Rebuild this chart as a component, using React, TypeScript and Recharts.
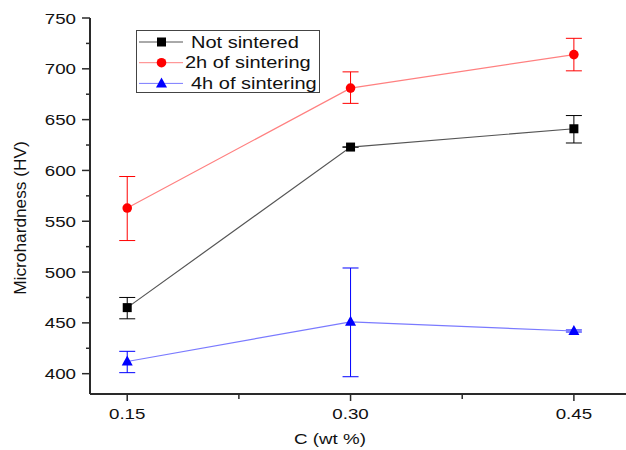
import { LineChart, Line, XAxis, YAxis, ErrorBar } from 'recharts'

const xValues = [0.15, 0.3, 0.45]
const xTicks = [0.15, 0.225, 0.3, 0.375, 0.45]
const xMajor = [0.15, 0.3, 0.45]
const yTicks = [400, 425, 450, 475, 500, 525, 550, 575, 600, 625, 650, 675, 700, 725, 750]

const notSintered = [465, 623, 641]
const notSinteredErr = [[11, 10], [0, 0], [14, 13]]
const sinter2h = [563, 681, 714]
const sinter2hErr = [[32, 31], [15, 16], [16, 16]]
const sinter4h = [412, 451, 442]
const sinter4hErr = [[11, 10], [54, 53], [1, 1]]

const data = xValues.map((x, i) => ({
  x,
  ns: notSintered[i],
  nsErr: notSinteredErr[i],
  h2: sinter2h[i],
  h2Err: sinter2hErr[i],
  h4: sinter4h[i],
  h4Err: sinter4hErr[i]
}))

const FONT = '"Liberation Sans", Arial, sans-serif'
const AXIS = '#2a2a2a'
const SX = 1.25 // the reference's text is stretched sideways

const Marker = ({ kind, cx, cy, color }: { kind: string; cx: number; cy: number; color: string }) => {
  if (kind === 'square') return <rect x={cx - 4.5} y={cy - 4.5} width={9} height={9} fill={color} />
  if (kind === 'circle') return <circle cx={cx} cy={cy} r={4.8} fill={color} />
  return <polygon points={`${cx},${cy - 6} ${cx - 5.5},${cy + 4} ${cx + 5.5},${cy + 4}`} fill={color} />
}

const series = [
  { key: 'ns', err: 'nsErr', name: 'Not sintered', kind: 'square', color: '#000000', line: '#555555', textX: 55 },
  { key: 'h2', err: 'h2Err', name: '2h of sintering', kind: 'circle', color: '#ff0000', line: '#ff8080', textX: 49 },
  { key: 'h4', err: 'h4Err', name: '4h of sintering', kind: 'triangle', color: '#0000ff', line: '#7a7aff', textX: 55 }
]

const XTick = (props: any) => {
  const { x, y, payload } = props
  const major = xMajor.includes(payload.value)
  return (
    <g>
      <line x1={x} y1={y} x2={x} y2={y + (major ? 7 : 5)} stroke={AXIS} strokeWidth={1.5} />
      {major && (
        <text transform={`translate(${x},${y + 25}) scale(${SX},1)`} textAnchor='middle' fontSize={15} fontFamily={FONT} fill='#111'>
          {payload.value.toFixed(2)}
        </text>
      )}
    </g>
  )
}

const YTick = (props: any) => {
  const { x, y, payload } = props
  const major = payload.value % 50 === 0
  return (
    <g>
      <line x1={x} y1={y} x2={x - (major ? 8 : 4)} y2={y} stroke={AXIS} strokeWidth={1.5} />
      {major && (
        <text transform={`translate(${x - 14},${y + 5.5}) scale(${SX},1)`} textAnchor='end' fontSize={15} fontFamily={FONT} fill='#111'>
          {payload.value}
        </text>
      )}
    </g>
  )
}

const LegendBox = () => (
  <svg width={185} height={64} style={{ display: 'block' }}>
    <rect x={0.5} y={0.5} width={183} height={62} fill='#fff' stroke='#444' strokeWidth={1} />
    {series.map((s, i) => {
      const cy = 12 + i * 20.7
      return (
        <g key={s.key}>
          <line x1={3} y1={cy} x2={47} y2={cy} stroke={s.line} strokeWidth={1} />
          <Marker kind={s.kind} cx={25.5} cy={cy} color={s.color} />
          <text transform={`translate(${s.textX},${cy + 5.7}) scale(${SX},1)`} fontSize={16} fontFamily={FONT} fill='#111'>
            {s.name}
          </text>
        </g>
      )
    })}
  </svg>
)

export default function App() {
  return (
    <div style={{ position: 'absolute', left: 0, top: 0, width: 626, height: 450, background: '#fff' }}>
      <LineChart width={626} height={450} data={data} margin={{ top: 18, right: 0, bottom: 0, left: 0 }}>
        <XAxis
          dataKey='x'
          type='number'
          domain={[0.125, 0.485]}
          ticks={xTicks}
          allowDataOverflow
          height={56}
          tickSize={0}
          tickMargin={0}
          tickLine={false}
          tick={<XTick />}
          interval={0}
          axisLine={{ stroke: AXIS, strokeWidth: 2 }}
          label={() => (
            <text transform={`translate(330,444) scale(${SX},1)`} textAnchor='middle' fontSize={15} fontFamily={FONT} fill='#111'>
              C (wt %)
            </text>
          )}
        />
        <YAxis
          type='number'
          domain={[380, 750]}
          ticks={yTicks}
          allowDataOverflow
          width={90}
          tickSize={0}
          tickMargin={0}
          tickLine={false}
          tick={<YTick />}
          interval={0}
          axisLine={{ stroke: AXIS, strokeWidth: 2 }}
          label={() => (
            <text transform='translate(26,218) rotate(-90) scale(1.08,1)' textAnchor='middle' fontSize={16} fontFamily={FONT} fill='#111'>
              Microhardness (HV)
            </text>
          )}
        />
        {series.map((s) => (
          <Line
            key={s.key}
            dataKey={s.key}
            name={s.name}
            type='linear'
            stroke={s.line}
            strokeWidth={1.2}
            isAnimationActive={false}
            activeDot={false}
            dot={(p: any) => <Marker key={`${s.key}-${p.index}`} kind={s.kind} cx={p.cx} cy={p.cy} color={s.color} />}
          >
            <ErrorBar dataKey={s.err} direction='y' width={8} stroke={s.color} strokeWidth={1} />
          </Line>
        ))}
      </LineChart>
      <div style={{ position: 'absolute', left: 136, top: 30 }}>
        <LegendBox />
      </div>
    </div>
  )
}
